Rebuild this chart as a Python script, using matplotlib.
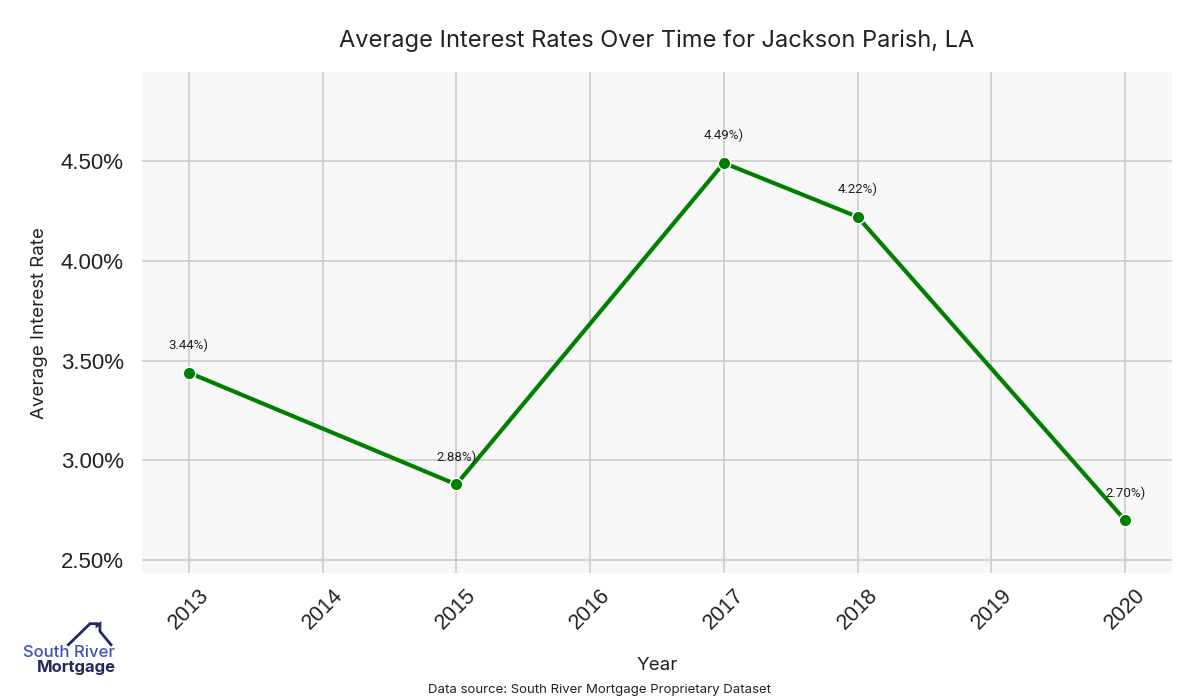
import matplotlib
matplotlib.use("Agg")
import matplotlib.pyplot as plt
from matplotlib.ticker import FuncFormatter
from matplotlib.lines import Line2D

years = [2013, 2015, 2017, 2018, 2020]
rates = [3.44, 2.88, 4.49, 4.22, 2.70]
tick_years = [2013, 2014, 2015, 2016, 2017, 2018, 2019, 2020]
title = "Average Interest Rates Over Time for Jackson Parish, LA"
xlabel = "Year"
ylabel = "Average Interest Rate"
source = "Data source: South River Mortgage Proprietary Dataset"

fig = plt.figure(figsize=(12, 7), dpi=100)
ax = fig.add_axes([0.1183, 0.181, 0.8584, 0.716])
ax.set_facecolor("#f7f7f7")
for s in ax.spines.values():
    s.set_visible(False)
ax.grid(True, color="#cccccc", linewidth=1.2)
ax.set_axisbelow(True)

ax.plot(years, rates, color="#008000", linewidth=3, marker="o", markersize=9,
        markeredgecolor="white", markeredgewidth=1, zorder=3)
for x, y in zip(years, rates):
    ax.annotate(f"{y:.2f}%)", (x, y), xytext=(0, 15), textcoords="offset points",
                ha="center", va="bottom", fontsize=9.5, color="#222222",
                family="Roboto")

ax.set_xlim(2012.65, 2020.35)
ax.set_ylim(2.435, 4.945)
ax.set_xticks(tick_years)
ax.set_xticklabels([str(t) for t in tick_years], rotation=45, fontsize=15.5,
                   family="Liberation Sans", color="#222222")
ax.set_yticks([2.5, 3.0, 3.5, 4.0, 4.5])
ax.yaxis.set_major_formatter(FuncFormatter(lambda v, p: f"{v:.2f}%"))
for lab in ax.get_yticklabels():
    lab.set_fontsize(16)
    lab.set_family("Liberation Sans")
    lab.set_color("#222222")
ax.tick_params(axis="y", length=0, pad=13)
ax.tick_params(axis="x", length=0, pad=8)

ax.set_title(title, fontsize=17, family="Inter", color="#222222", pad=18)
ax.set_xlabel(xlabel, fontsize=13.5, family="Inter", color="#222222", labelpad=17)
ax.set_ylabel(ylabel, fontsize=13.5, family="Inter", color="#222222", labelpad=9)

fig.text(0.5, 0.005, source, ha="center", va="bottom", fontsize=9.5,
         family="Inter", color="#222222")

# logo
fig.text(0.019, 0.062, "South River", fontsize=12, family="Inter", color="#3f51b5",
         ha="left", va="baseline", fontweight="medium")
fig.text(0.031, 0.040, "Mortgage", fontsize=12, family="Inter", color="#23295e",
         ha="left", va="baseline", fontweight="bold")
fig.add_artist(Line2D([0.057, 0.075, 0.0808, 0.0808, 0.0833, 0.0833, 0.0925],
                      [0.079, 0.109, 0.109, 0.106, 0.109, 0.098, 0.079],
                      transform=fig.transFigure, color="#23295e", linewidth=2,
                      solid_joinstyle="miter"))

fig.savefig("out.png", dpi=100)
